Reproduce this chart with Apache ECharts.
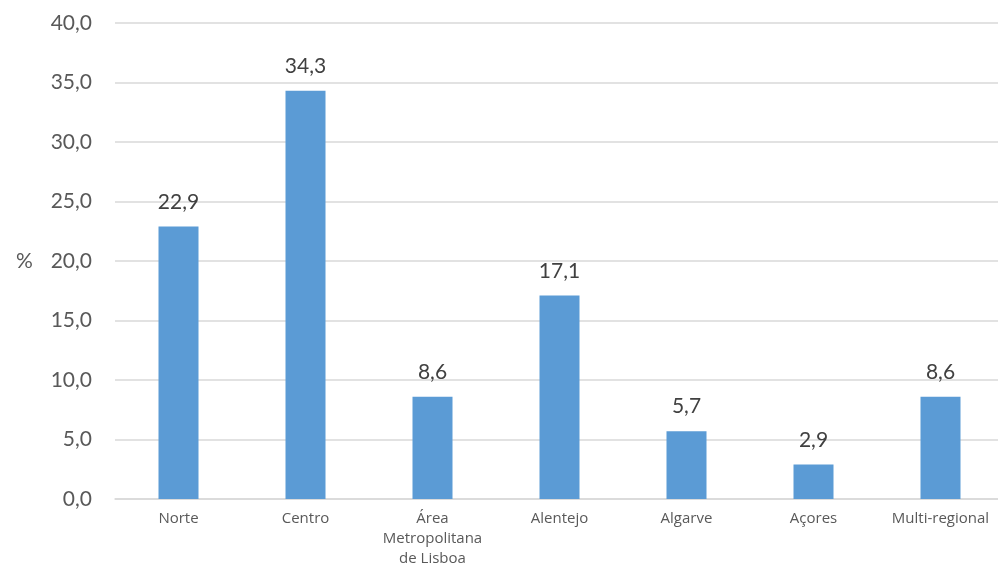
<!DOCTYPE html>
<html>
<head>
<meta charset="utf-8">
<script src="https://cdn.jsdelivr.net/npm/echarts@6/dist/echarts.min.js"></script>
<style>
  html, body { margin: 0; padding: 0; background: #ffffff; }
  #chart { width: 998px; height: 567px; }
</style>
</head>
<body>
<div id="chart"></div>
<script>
// Regions and their shares (%)
const categories = ['Norte', 'Centro', 'Área\nMetropolitana\nde Lisboa', 'Alentejo', 'Algarve', 'Açores', 'Multi-regional'];
const shares = [22.9, 34.3, 8.6, 17.1, 5.7, 2.9, 8.6];
const yTicks = { min: 0, max: 40, interval: 5 };
const unitLabel = '%';

const fmt = v => v.toFixed(1).replace('.', ',');

const chart = echarts.init(document.getElementById('chart'), null, { renderer: 'canvas' });
chart.setOption({
  animation: false,
  backgroundColor: '#ffffff',
  grid: {
    left: 115, top: 23, width: 889, height: 476,
    containLabel: false,
    outerBoundsMode: 'none'
  },
  xAxis: {
    type: 'category',
    data: categories,
    axisLine: { show: true, lineStyle: { color: '#d9d9d9', width: 1.5 } },
    axisTick: { show: false },
    axisLabel: {
      color: '#595959',
      fontFamily: 'Open Sans',
      fontSize: 15,
      lineHeight: 20,
      margin: 10,
      interval: 0
    }
  },
  yAxis: {
    type: 'value',
    min: yTicks.min,
    max: yTicks.max,
    interval: yTicks.interval,
    axisLine: { show: false },
    axisTick: { show: false },
    splitLine: { lineStyle: { color: '#d9d9d9', width: 1.5 } },
    axisLabel: {
      color: '#595959',
      fontFamily: 'Lato',
      fontSize: 21,
      margin: 23,
      formatter: v => fmt(v)
    }
  },
  graphic: [{
    type: 'text',
    left: 16,
    top: 251,
    style: { text: unitLabel, fill: '#595959', font: '21px Lato' }
  }],
  series: [{
    type: 'bar',
    data: shares,
    barWidth: 40,
    itemStyle: { color: '#5b9bd5' },
    label: {
      show: true,
      position: 'top',
      distance: 14,
      color: '#404040',
      fontFamily: 'Lato',
      fontSize: 21,
      formatter: p => fmt(p.value)
    }
  }]
});
</script>
</body>
</html>
